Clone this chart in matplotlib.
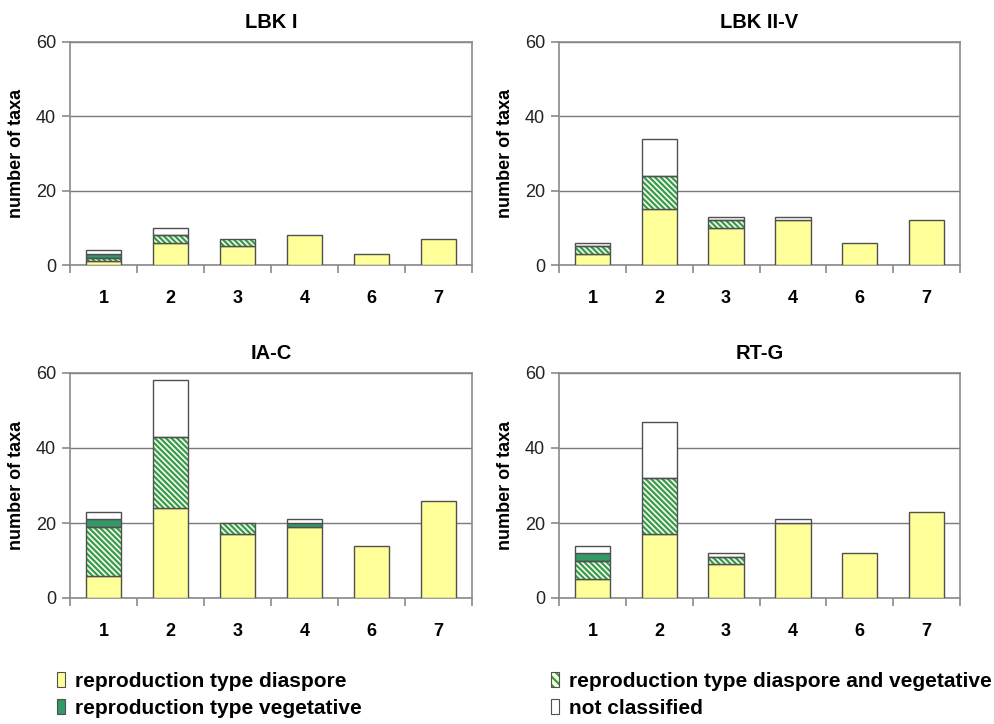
import numpy as np
import matplotlib
matplotlib.use("Agg")
import matplotlib.pyplot as plt
from matplotlib.patches import Patch

plt.rcParams['font.family'] = ['Liberation Sans', 'DejaVu Sans']
plt.rcParams['hatch.linewidth'] = 1.6

categories = ["1", "2", "3", "4", "6", "7"]
panels = ["LBK I", "LBK II-V", "IA-C", "RT-G"]

# reproduction type diaspore
diaspore = {
    "LBK I":    [1, 6, 5, 8, 3, 7],
    "LBK II-V": [3, 15, 10, 12, 6, 12],
    "IA-C":     [6, 24, 17, 19, 14, 26],
    "RT-G":     [5, 17, 9, 20, 12, 23],
}
# reproduction type diaspore and vegetative
diaspore_veg = {
    "LBK I":    [1, 2, 2, 0, 0, 0],
    "LBK II-V": [2, 9, 2, 0, 0, 0],
    "IA-C":     [13, 19, 3, 0, 0, 0],
    "RT-G":     [5, 15, 2, 0, 0, 0],
}
# reproduction type vegetative
vegetative = {
    "LBK I":    [1, 0, 0, 0, 0, 0],
    "LBK II-V": [0, 0, 0, 0, 0, 0],
    "IA-C":     [2, 0, 0, 1, 0, 0],
    "RT-G":     [2, 0, 0, 0, 0, 0],
}
# not classified
not_classified = {
    "LBK I":    [1, 2, 0, 0, 0, 0],
    "LBK II-V": [1, 10, 1, 1, 0, 0],
    "IA-C":     [2, 15, 0, 1, 0, 0],
    "RT-G":     [2, 15, 1, 1, 0, 0],
}

yellow = "#FFFF99"
green = "#339966"
hatch_bg = "#FFFFCC"
edge = "#505050"
axis_gray = "#8a8a8a"
HATCH = "\\" * 6

W, H = 994, 724
fig = plt.figure(figsize=(W / 100, H / 100), dpi=100)

# axes boxes in pixels: left, top, right, bottom
boxes = {
    "LBK I":    (70, 42, 472, 265),
    "LBK II-V": (559, 42, 960, 265),
    "IA-C":     (70, 373, 472, 598),
    "RT-G":     (559, 373, 960, 598),
}

x = np.arange(len(categories)) + 0.5
bw = 0.53


def lw(vals):
    # no outline for empty segments
    return np.where(np.asarray(vals) > 0, 1.0, 0.0)


for name in panels:
    l, t, r, b = boxes[name]
    ax = fig.add_axes([l / W, 1 - b / H, (r - l) / W, (b - t) / H])

    d = np.array(diaspore[name])
    dv = np.array(diaspore_veg[name])
    v = np.array(vegetative[name])
    nc = np.array(not_classified[name])

    ax.bar(x, d, bw, color=yellow, edgecolor=edge, linewidth=lw(d), zorder=3)
    b1 = d
    ax.bar(x, dv, bw, bottom=b1, color=hatch_bg, edgecolor=green,
           hatch=HATCH, linewidth=0, zorder=3)
    ax.bar(x, dv, bw, bottom=b1, fill=False, edgecolor=edge, linewidth=lw(dv), zorder=4)
    b2 = b1 + dv
    ax.bar(x, v, bw, bottom=b2, color=green, edgecolor=edge, linewidth=lw(v), zorder=3)
    b3 = b2 + v
    ax.bar(x, nc, bw, bottom=b3, color="white", edgecolor=edge, linewidth=lw(nc), zorder=3)

    ax.set_xlim(0, len(categories))
    ax.set_ylim(0, 60)
    ax.set_yticks([0, 20, 40, 60])
    ax.yaxis.grid(True, color="#7a7a7a", linewidth=1, zorder=1)
    ax.set_axisbelow(True)

    ax.set_xticks(np.arange(len(categories) + 1))
    ax.set_xticklabels([])
    ax.set_xticks(x, minor=True)
    ax.set_xticklabels(categories, minor=True, fontweight="bold", fontsize=13)
    ax.tick_params(axis="x", which="major", length=6, color=axis_gray, width=1.2)
    ax.tick_params(axis="x", which="minor", length=0, pad=18)
    ax.tick_params(axis="y", length=6, color=axis_gray, width=1.2, labelsize=13,
                   labelcolor="#222222", pad=4)

    for s in ax.spines.values():
        s.set_color(axis_gray)
        s.set_linewidth(1.2)

    ax.set_title(name, fontweight="bold", fontsize=14.5, pad=10)
    ax.set_ylabel("number of taxa", fontweight="bold", fontsize=13)
    ax.yaxis.set_label_coords(-45 / (r - l), 0.5)

h_d = Patch(facecolor=yellow, edgecolor=edge, linewidth=0.8)
h_v = Patch(facecolor=green, edgecolor=edge, linewidth=0.8)
h_dv = (Patch(facecolor=hatch_bg, edgecolor=green, hatch="\\\\\\\\", linewidth=0),
        Patch(fill=False, edgecolor=edge, linewidth=0.8))
h_nc = Patch(facecolor="white", edgecolor=edge, linewidth=0.8)

leg_kw = dict(frameon=False, borderpad=0, borderaxespad=0, handlelength=0.4,
              handleheight=0.7, handletextpad=0.45, labelspacing=0.38,
              prop={'family': ['Liberation Sans Narrow', 'Liberation Sans'],
                    'weight': 'bold', 'size': 15})
leg1 = fig.legend([h_d, h_v], ["reproduction type diaspore", "reproduction type vegetative"],
                  loc="upper left", bbox_to_anchor=(57 / W, 1 - 672 / H), **leg_kw)
leg2 = fig.legend([h_dv, h_nc], ["reproduction type diaspore and vegetative", "not classified"],
                  loc="upper left", bbox_to_anchor=(551 / W, 1 - 672 / H), **leg_kw)

fig.savefig("out.png", dpi=100)
